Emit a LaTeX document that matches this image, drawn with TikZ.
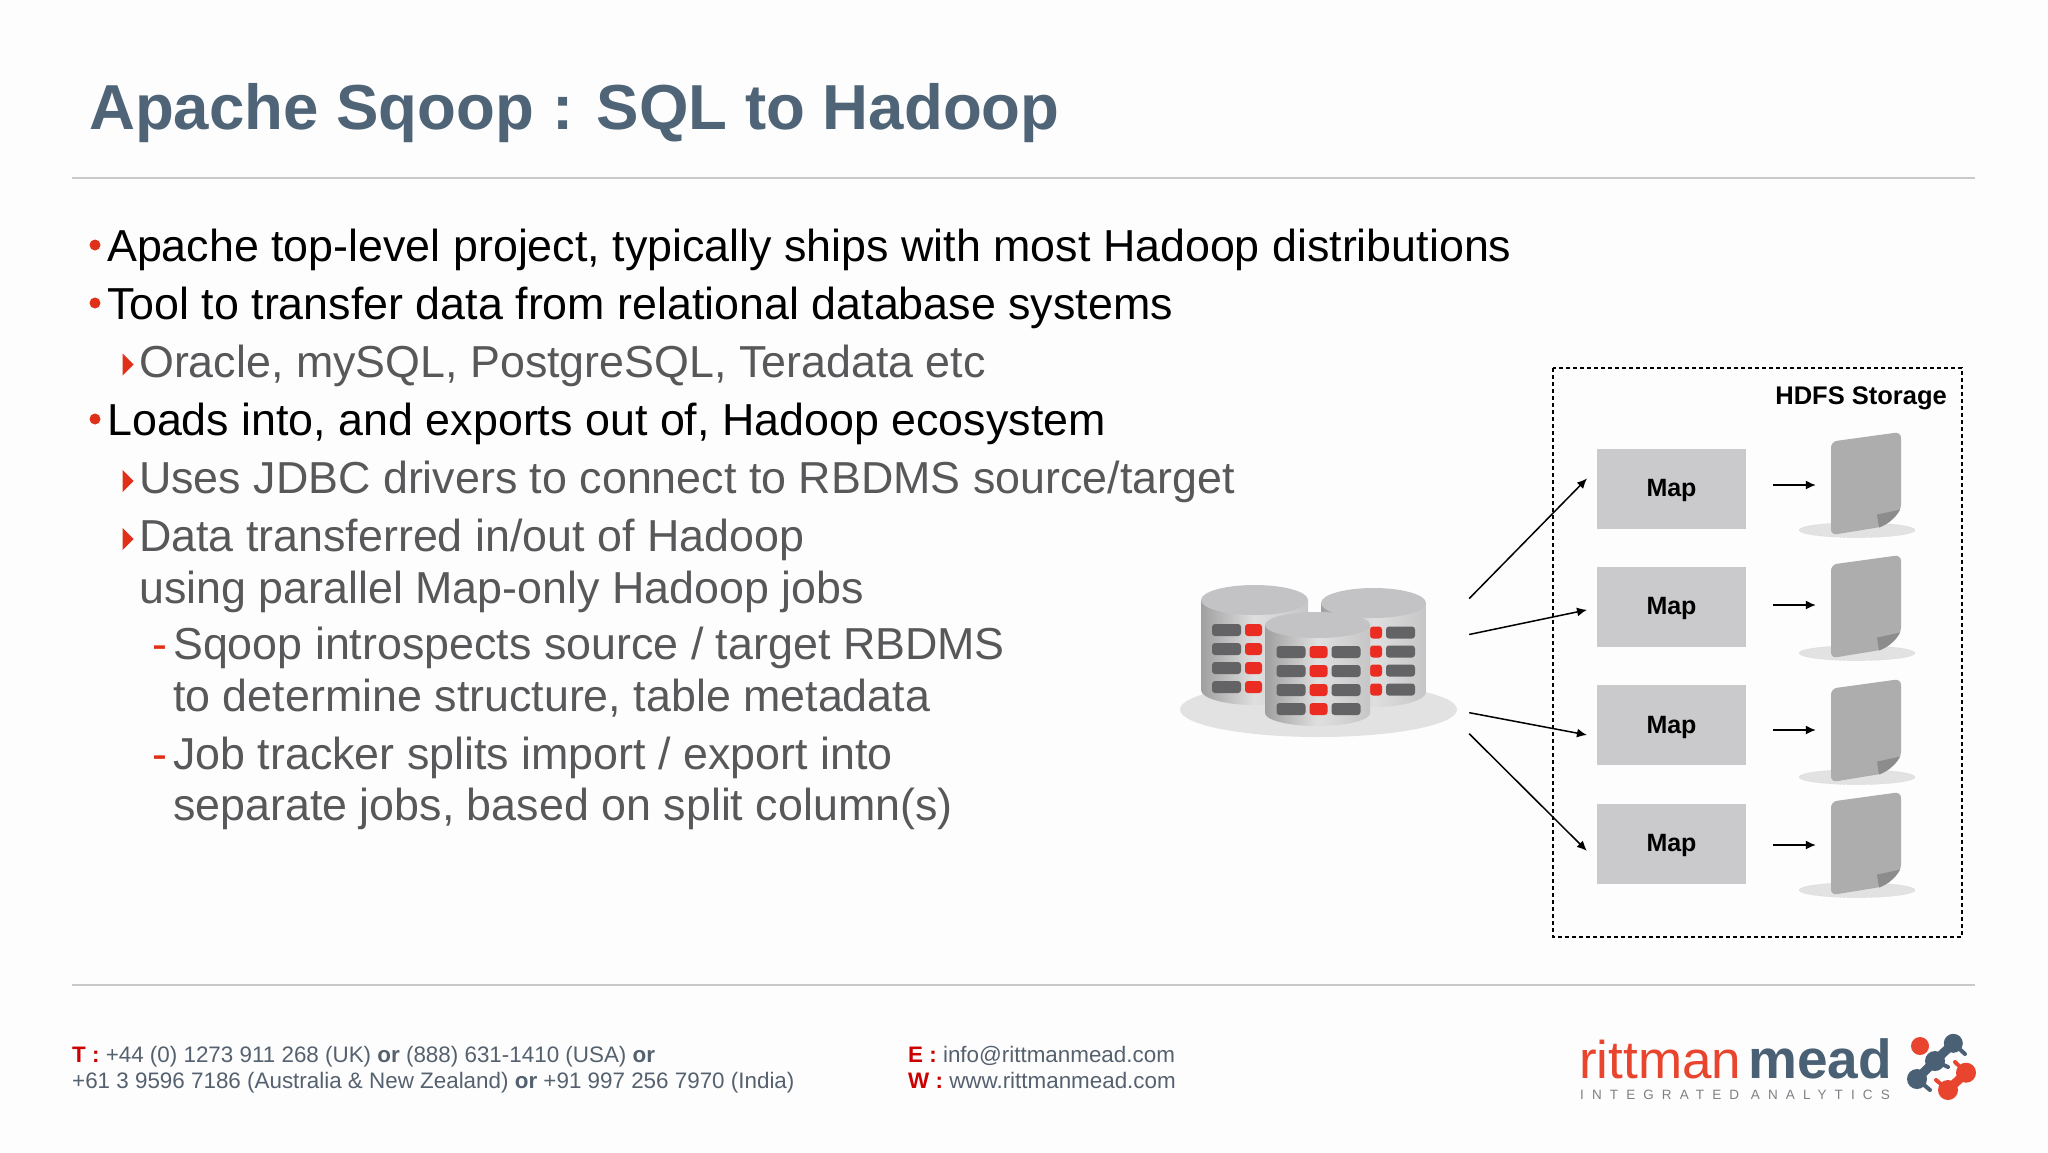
\documentclass[tikz,border=0pt]{standalone}
\usepackage{fontspec}
\setmainfont{Liberation Sans}
\usetikzlibrary{arrows.meta,matrix,shapes.geometric}
\definecolor{slidebg}{HTML}{FDFDFD}
\definecolor{titleblue}{HTML}{4F6477}
\definecolor{rulegrey}{HTML}{C9C9C9}
\definecolor{subgrey}{HTML}{58585A}
\definecolor{markred}{HTML}{E0301A}
\definecolor{footgrey}{HTML}{55616F}
\definecolor{mapgrey}{HTML}{CACACC}
\definecolor{sheetgrey}{HTML}{ADADAD}
\definecolor{foldgrey}{HTML}{8C8C8C}
\definecolor{plategrey}{HTML}{E2E2E2}
\definecolor{captop}{HTML}{C3C3C5}
\definecolor{ledred}{HTML}{EA2C22}
\definecolor{leddark}{HTML}{636365}
\definecolor{logored}{HTML}{E8442E}
\definecolor{logoblue}{HTML}{4A6074}
\definecolor{taggrey}{HTML}{7C8084}
\tikzset{toptext/.style={anchor=base west,inner sep=0pt,text=black,
    font=\fontsize{44.8}{52}\selectfont},
  subtext/.style={toptext,text=subgrey},
  dotmark/.style={circle,fill=markred,minimum size=11pt,inner sep=0pt},
  trimark/.style={isosceles triangle,isosceles triangle apex angle=90,
    fill=markred,minimum height=11pt,inner sep=0pt,anchor=apex},
  dashmark/.style={toptext,text=markred},
  foottext/.style={anchor=base west,inner sep=0pt,text=footgrey,
    font=\fontsize{22.4}{28}\selectfont},
  mapbox/.style={fill=mapgrey,minimum width=149pt,minimum height=80pt,
    inner sep=0pt,text height=22pt,font=\fontsize{25}{30}\selectfont\bfseries},
  sheetbox/.style={minimum width=70pt,minimum height=102pt,inner sep=0pt},
  flow/.style={-{Latex[length=10pt,width=9pt]},line width=1.5pt},
  led matrix/.style={
    matrix of nodes,
    nodes in empty cells,
    column sep=4pt, row sep=7pt,
    nodes={fill=leddark,
      rounded corners=3pt,
      minimum width=#1,
      minimum height=12pt,
      inner sep=0pt
    },
  },
  led matrix/.default=29pt,
  redled/.style={fill=ledred,minimum width=#1},
  redled/.default=17pt
}
\newcommand{\bigcyl}[5]{%
  \path[left color=gray!75,right color=gray!45,middle color=gray!25]
    (#1-#2,#3) -- (#1-#2,#4) arc (180:0:#2 and #5) -- (#1+#2,#3) -- cycle;
  \fill[captop] (#1,#3) ellipse (#2 and #5);
}
\begin{document}
\begin{tikzpicture}[x=1pt,y=-1pt]
    \fill[slidebg] (0,0) rectangle (2048,1152);
    \node[anchor=base west,inner sep=0pt,text=titleblue,
      font=\fontsize{63.6}{70}\selectfont\bfseries] (title) at (89,129.5) {Apache Sqoop : SQL to Hadoop};
    \draw[rulegrey,line width=1.2pt] (72,178) -- (1975,178);
    \draw[rulegrey,line width=1.2pt] (72,985) -- (1975,985);

    \node[dotmark] (dotapache) at (95,245) {};
    \node[toptext] (apache) at (107,261) {Apache top-level project, typically ships with most Hadoop distributions};
    \node[dotmark] (dottool) at (95,303) {};
    \node[toptext] (tool) at (107,319) {Tool to transfer data from relational database systems};
    \node[trimark] (trioracle) at (134,364.5) {};
    \node[subtext] (oracle) at (139,377) {Oracle, mySQL, PostgreSQL, Teradata etc};
    \node[dotmark] (dotloads) at (95,419) {};
    \node[toptext] (loads) at (107,435) {Loads into, and exports out of, Hadoop ecosystem};
    \node[trimark] (triuses) at (134,481) {};
    \node[subtext] (uses) at (139,493) {Uses JDBC drivers to connect to RBDMS source/target};
    \node[trimark] (tridata) at (134,539) {};
    \node[subtext] (data) at (139,551) {Data transferred in/out of Hadoop};
    \node[subtext] (datanext) at (139,603) {using parallel Map-only Hadoop jobs};
    \node[dashmark] (dashsqoop) at (152,659.5) {-};
    \node[subtext] (sqoop) at (173,659.5) {Sqoop introspects source / target RBDMS};
    \node[subtext] (sqoopnext) at (173,711.5) {to determine structure, table metadata};
    \node[dashmark] (dashjob) at (152,769.5) {-};
    \node[subtext] (job) at (173,769.5) {Job tracker splits import / export into};
    \node[subtext] (jobnext) at (173,820.5) {separate jobs, based on split column(s)};

    \fill[plategrey] (1318.5,709.5) ellipse (138.5 and 27.5);
    \bigcyl{1254.5}{53.5}{600}{690}{15}
    \bigcyl{1373.5}{52.5}{603}{692}{15}
    \matrix[led matrix] (ledsleft) at (1237,658.5) {
        &|[redled]| \\
        &|[redled]| \\
        &|[redled]| \\
        &|[redled]| \\
    };
    \matrix[led matrix] (ledsright) at (1392.5,661) {
        |[redled=12pt]| & \\
        |[redled=12pt]| & \\
        |[redled=12pt]| & \\
        |[redled=12pt]| & \\
    };
    \bigcyl{1317.5}{52.5}{625}{713}{13}
    \matrix[led matrix] (ledsfront) at (1318.5,680.5) {
        &|[redled=18pt]| & \\
        &|[redled=18pt]| & \\
        &|[redled=18pt]| & \\
        &|[redled=18pt]| & \\
    };
    \node[minimum width=289pt,minimum height=160pt,inner sep=0pt] (dbase) at (1324.5,660) {};

    \draw[dash pattern=on 4pt off 3pt,line width=1.5pt] (1553,368) rectangle (1962,937);
    \node[anchor=base east,inner sep=0pt,font=\fontsize{25.5}{30}\selectfont\bfseries] (hdfs) at (1947,404) {HDFS Storage};

    \foreach \row/\mapy/\flowy/\docy in {1/488.5/485/483.6,2/606.5/605/606.6,3/725/730/730.6,4/843.5/845/843.6} {
        \node[mapbox] (map\row) at (1671.5,\mapy) {Map};
        \node[sheetbox] (sheet\row) at (1866,\flowy) {};
        \fill[plategrey] (1857,\docy+46.5) ellipse (58 and 7.5);
        \draw[gray!45,densely dotted] (1857,\docy+46.5) ellipse (58 and 7.5);
        \fill[sheetgrey] (1831,\docy+47) [rounded corners=6pt] -- (1831,\docy-42) -- (1901,\docy-51.6) -- (1901,\docy+15)
          [sharp corners] .. controls (1901,\docy+30) and (1890,\docy+40) .. (1877,\docy+44) -- (1837,\docy+50.5) .. controls (1833,\docy+50.5) .. (1831,\docy+47) -- cycle;
        \fill[foldgrey] (1900,\docy+26) .. controls (1894,\docy+36) and (1887,\docy+41) .. (1879,\docy+44) -- (1877,\docy+31) -- cycle;
        \draw[flow,shorten <=27pt,shorten >=15pt] (sheet\row.west -| map\row.east) -- (sheet\row.west);
    }
    \draw[flow,shorten >=14pt] (dbase.23.7) -- (map1.165.8);
    \draw[flow,shorten >=10pt] (dbase.10.5) -- (map2.181.6);
    \draw[flow,shorten >=10pt] (dbase.-20.3) -- (map3.189);
    \draw[flow,shorten >=14pt] (dbase.-27.4) -- (map4.193);

    \node[foottext] (phoneone) at (72,1062) {{\color{red!80!black}\bfseries T :} +44 (0) 1273 911 268 (UK) {\bfseries or} (888) 631-1410 (USA) {\bfseries or}};
    \node[foottext] (phonetwo) at (72,1088) {+61 3 9596 7186 (Australia \& New Zealand) {\bfseries or} +91 997 256 7970 (India)};
    \node[foottext] (mail) at (908,1062) {{\color{red!80!black}\bfseries E :} info@rittmanmead.com};
    \node[foottext] (web) at (908,1088) {{\color{red!80!black}\bfseries W :} www.rittmanmead.com};

    \node[anchor=base west,inner sep=0pt,text=logored,font=\fontsize{53}{60}\selectfont] (rittman) at (1579,1078) {rittman};
    \node[anchor=base west,inner sep=0pt,text=logoblue,font=\fontsize{55}{60}\selectfont\bfseries] (mead) at (1748,1078) {mead};
    \node[anchor=base west,inner sep=0pt,text=taggrey,font=\fontsize{13.5}{16}\selectfont\addfontfeature{LetterSpace=60}] (tagline) at (1580,1099) {INTEGRATED ANALYTICS};
    \fill[logored] (1920,1046) circle (9);
    \draw[logoblue,line width=9pt] (1953.3,1043.3) -- (1935,1061) -- (1917,1079);
    \draw[logoblue,line width=4pt,line cap=round] (1953.3,1043.3) -- (1965,1054) (1935,1061) -- (1948,1067) (1917,1079) -- (1930,1090);
    \fill[logoblue] (1953.3,1043.3) circle (9.5) (1935,1061) circle (10) (1917,1079) circle (10);
    \draw[logored,line width=9pt] (1966,1072.7) -- (1948,1090);
    \draw[logored,line width=4pt,line cap=round] (1966,1072.7) -- (1955,1062) (1948,1090) -- (1936,1080);
    \fill[logored] (1966,1072.7) circle (10) (1948,1090) circle (10);
\end{tikzpicture}
\end{document}
